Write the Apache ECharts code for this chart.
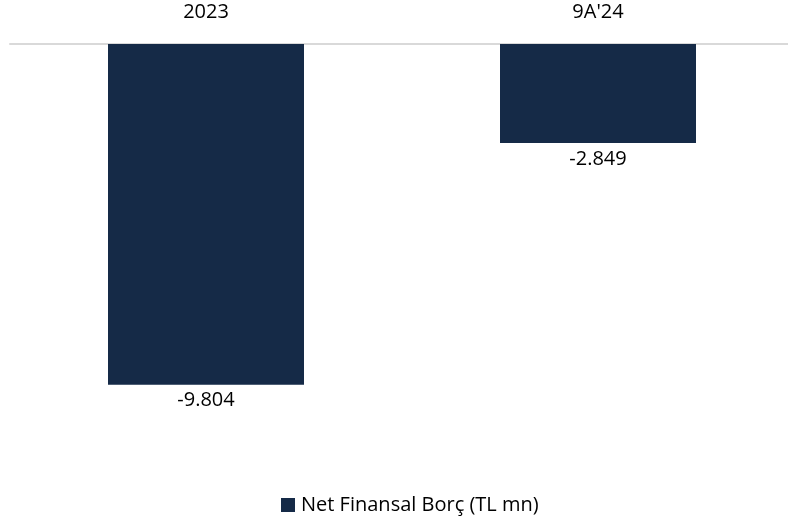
<!DOCTYPE html>
<html><head><meta charset="utf-8">
<script src="https://cdn.jsdelivr.net/npm/echarts@6/dist/echarts.min.js"></script>
<style>html,body{margin:0;padding:0;background:#fff}#c{width:788px;height:522px}</style>
</head><body><div id="c"></div>
<script>
var categories = ["2023", "9A'24"];
var seriesName = "Net Finansal Borç (TL mn)";
var values = [-9804, -2849];

var chart = echarts.init(document.getElementById('c'));
chart.setOption({
  animation: false,
  textStyle: {fontFamily: "Open Sans"},
  grid: {left: 10, width: 784, top: 44, height: 417, containLabel: false, outerBoundsMode: 'none'},
  legend: {
    top: 495, left: 281, itemWidth: 14, itemHeight: 14, icon: 'rect', itemGap: 6, padding: 0,
    textStyle: {fontSize: 20, color: '#000', fontFamily: "Open Sans", padding: [0, 0, 0, 1]},
    data: [seriesName]
  },
  xAxis: {
    type: 'category', position: 'top', data: categories,
    axisLine: {lineStyle: {color: '#d9d9d9', width: 2}},
    axisTick: {show: false},
    axisLabel: {fontSize: 20, color: '#000', margin: 22, fontFamily: "Open Sans"}
  },
  yAxis: {
    type: 'value', min: -12000, max: 0, show: false, splitLine: {show: false}
  },
  series: [{
    name: seriesName, type: 'bar', data: values, barWidth: '50%',
    itemStyle: {color: '#152a47'},
    label: {
      show: true, position: 'bottom', distance: 6, fontSize: 20, color: '#000', fontFamily: "Open Sans",
      formatter: function (p) {
        var v = Math.abs(p.value);
        var s = String(v).replace(/\B(?=(\d{3})+(?!\d))/g, '.');
        return (p.value < 0 ? '-' : '') + s;
      }
    }
  }]
});
</script></body></html>
